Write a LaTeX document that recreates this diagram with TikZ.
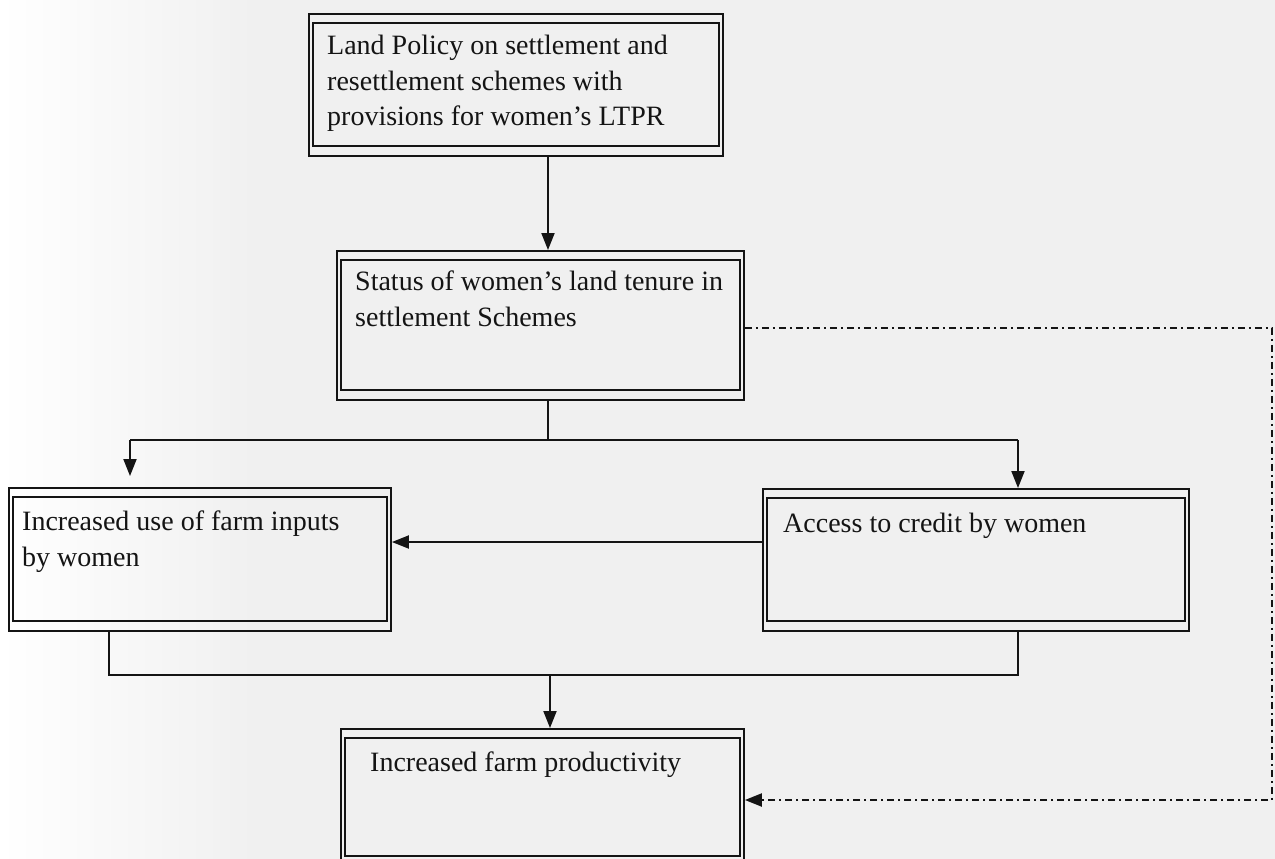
\documentclass[tikz,border=0pt]{standalone}
\usepackage{fontspec}
\setmainfont{Liberation Serif}
\usetikzlibrary{arrows.meta}
\definecolor{paper}{gray}{0.94}
\definecolor{ink}{gray}{0.08}
\begin{document}
\begin{tikzpicture}[x=1pt,y=-1pt,
 outerbox/.style={draw=ink, line width=1.9pt, inner sep=0pt, anchor=north west},
 innerline/.style={draw=ink, line width=1.5pt},
 lbl/.style={anchor=north west, inner sep=0pt, align=left, text=ink, font=\fontsize{28}{35.5}\selectfont},
 conn/.style={draw=ink, line width=1.9pt},
 tip/.style={-{Triangle[length=17pt,width=13pt]}},
 arr/.style={conn, tip},
 dashdot/.style={draw=ink, line width=2.2pt, dash pattern=on 7pt off 4pt on 2pt off 4pt},
]
\useasboundingbox (0,0) rectangle (1275,859);
\clip (0,0) rectangle (1275,859);
\shade[left color=white, right color=paper] (0,0) rectangle (260,859);
\fill[paper] (259,0) rectangle (1275,859);

% boxes
\node[outerbox, minimum width=414pt, minimum height=142pt] (b1) at (308,13) {};
\node[outerbox, minimum width=407pt, minimum height=149pt] (b2) at (336,250) {};
\node[outerbox, minimum width=382pt, minimum height=143pt] (b3) at (8,487) {};
\node[outerbox, minimum width=426pt, minimum height=142pt] (b4) at (762,488) {};
\node[outerbox, minimum width=403pt, minimum height=137pt] (b5) at (340,728) {};
\foreach \b in {b1,b2,b3,b4,b5}{
  \draw[innerline] ([shift={(5pt,-10pt)}]\b.north west) rectangle ([shift={(-5pt,11pt)}]\b.south east);
}

% texts
\node[lbl] (t1) at (327,35) {Land Policy on settlement and\\resettlement schemes with\\provisions for women’s LTPR};
\node[lbl] (t2) at (355,271) {Status of women’s land tenure in\\settlement Schemes};
\node[lbl] (t3) at (22,511) {Increased use of farm inputs\\by women};
\node[lbl] (t4) at (783,513) {Access to credit by women};
\node[lbl] (t5) at (370,752) {Increased farm productivity};

% connectors
\coordinate (j1) at (548,440);
\coordinate (sL) at (130,440);
\coordinate (sR) at (1018,440);
\draw[arr] (b1.south -| j1) -- (b2.north -| j1);
\draw[conn] (b2.south -| j1) -- (j1);
\draw[conn] (sL) -- (sR);
\draw[arr] (sL) -- ([yshift=11pt]b3.north -| sL);
\draw[arr] (sR) -- (b4.north -| sR);

\coordinate (h) at (0,542);
\draw[arr] (b4.west |- h) -- (b3.east |- h);

\coordinate (mL) at (109,675);
\coordinate (mR) at (1018,675);
\coordinate (mC) at (550,675);
\draw[conn] (b3.south -| mL) -- (mL) -- (mR) -- (b4.south -| mR);
\draw[arr] (mC) -- (b5.north -| mC);

\coordinate (dTR) at (1272,328);
\coordinate (dBR) at (1272,800);
\draw[dashdot, tip] (b2.east |- dTR) -- (dTR) -- (dBR) -- (b5.east |- dBR);
\end{tikzpicture}
\end{document}
